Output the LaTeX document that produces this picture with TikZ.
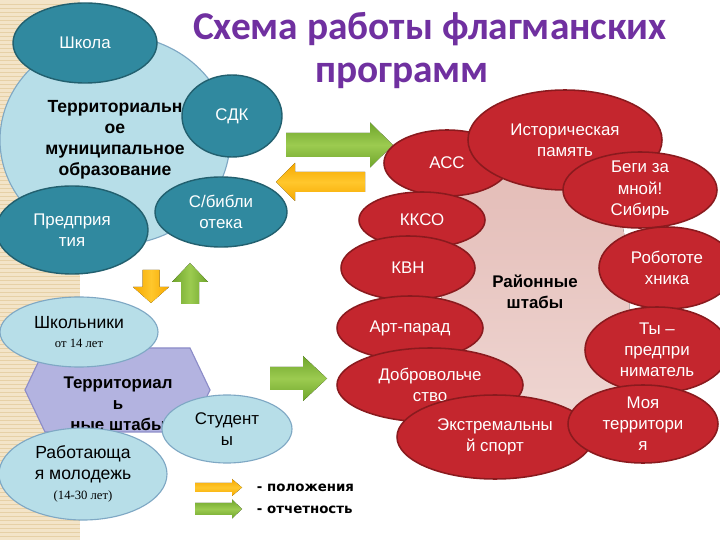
\documentclass[tikz,border=0pt]{standalone}
\usepackage{fontspec}
\setmainfont{Liberation Sans}
\newfontfamily\titlefont{Carlito}
\newfontfamily\timesru{Liberation Serif}
\newfontfamily\legendfont{DejaVu Sans}
\usetikzlibrary{shapes.geometric}

\definecolor{beige}{HTML}{F3E4C8}
\definecolor{beigeline}{HTML}{E6D0A6}
\definecolor{tealfill}{HTML}{30899F}
\definecolor{tealdraw}{HTML}{22606F}
\definecolor{lblue}{HTML}{B7DEE8}
\definecolor{lbluedraw}{HTML}{7FA8C4}
\definecolor{lavender}{HTML}{B3B3E0}
\definecolor{lavdraw}{HTML}{8C8CC8}
\definecolor{redfill}{HTML}{C4262E}
\definecolor{reddraw}{HTML}{8A1A1E}
\definecolor{pinktop}{HTML}{E4BDB8}
\definecolor{pinkbot}{HTML}{EFD6D2}
\definecolor{purple1}{HTML}{7030A0}
\definecolor{greenlight}{HTML}{9CCB50}
\definecolor{greendark}{HTML}{6FA52C}
\definecolor{orangelight}{HTML}{FFC72C}
\definecolor{orangedark}{HTML}{F6A800}

\begin{document}
\begin{tikzpicture}[
  oval/.style={ellipse, inner sep=-6pt, align=center, font=\fontsize{12}{15}\selectfont},
  tealov/.style={oval, fill=tealfill, draw=tealdraw, line width=1pt, text=white},
  lblueov/.style={oval, fill=lblue, draw=lbluedraw, line width=0.8pt, text=black},
  redov/.style={oval, fill=redfill, draw=reddraw, line width=1.1pt, text=white},
  garrow/.style={draw=none, top color=greendark, bottom color=greendark, middle color=greenlight},
  oarrow/.style={draw=none, top color=orangedark, bottom color=orangedark, middle color=orangelight},
  titletext/.style={text=purple1, font=\titlefont\bfseries\fontsize{28}{32}\selectfont}
]
\useasboundingbox (0,0) rectangle (18,13.5);
\fill[white] (0,0) rectangle (18,13.5);

% beige strip on the left
\fill[beige] (0,0) rectangle (2,13.5);
\foreach \yy in {0,0.1,...,13.5}
  \draw[beigeline, line width=0.4pt] (0,\yy) -- (2,\yy);

% title
\node[titletext] (title1) at (10.75,12.78) {Схема работы флагманских};
\node[titletext] (title2) at (10.05,11.6) {программ};

% municipal group
\node[lblueov, minimum width=5.75cm, minimum height=5.25cm, font=\bfseries\fontsize{12.5}{15}\selectfont] (munic) at (2.875,10.0) {Территориальн\\ое\\муниципальное\\образование};
\node[tealov, minimum width=3.6cm, minimum height=2cm] (school) at (2.125,12.425) {Школа};
\node[tealov, minimum width=2.5cm, minimum height=2.05cm] (sdk) at (5.8,10.6) {СДК};
\node[tealov, minimum width=3.3cm, minimum height=1.75cm] (lib) at (5.525,8.2) {С/библи\\отека};
\node[tealov, minimum width=3.8cm, minimum height=2.2cm] (firms) at (1.8,7.75) {Предприя\\тия};

% arrows between the groups
\fill[garrow] (7.15,9.575) -- (9.25,9.575) -- (9.25,9.3125) -- (9.825,9.875) -- (9.25,10.4375) -- (9.25,10.175) -- (7.15,10.175) -- cycle;
\fill[oarrow] (9.125,8.7) -- (7.375,8.7) -- (7.375,8.475) -- (6.9,8.95) -- (7.375,9.425) -- (7.375,9.2) -- (9.125,9.2) -- cycle;
\fill[oarrow, shading angle=90] (3.5625,6.75) -- (3.5625,6.325) -- (3.325,6.325) -- (3.775,5.925) -- (4.225,6.325) -- (3.9875,6.325) -- (3.9875,6.75) -- cycle;
\fill[garrow, shading angle=90] (4.525,5.9) -- (4.525,6.45) -- (4.3,6.45) -- (4.75,6.925) -- (5.2,6.45) -- (4.975,6.45) -- (4.975,5.9) -- cycle;
\fill[garrow] (6.75,3.75) -- (7.575,3.75) -- (7.575,3.475) -- (8.175,4.0375) -- (7.575,4.6) -- (7.575,4.325) -- (6.75,4.325) -- cycle;

% territorial groups
\filldraw[fill=lavender, draw=lavdraw, line width=0.8pt] (0.625,3.75) -- (1.125,4.8) -- (4.75,4.8) -- (5.25,3.75) -- (4.75,2.7) -- (1.125,2.7) -- cycle;
\node[align=center, font=\bfseries\fontsize{12}{15}\selectfont] (hq) at (2.95,3.4) {Территориал\\ь\\ные штабы};
\node[lblueov, minimum width=3.95cm, minimum height=1.75cm, font=\fontsize{12.5}{14}\selectfont] (pupils) at (1.975,5.2) {Школьники\\{\timesru\fontsize{9}{10}\selectfont от 14 лет}};
\node[lblueov, minimum width=3.25cm, minimum height=1.7cm] (students) at (5.675,2.775) {Студент\\ы};
\node[lblueov, minimum width=4.2cm, minimum height=2.3cm, font=\fontsize{12.5}{14.5}\selectfont] (youth) at (2.075,1.65) {Работающа\\я молодежь\\{\timesru\fontsize{9}{10}\selectfont (14-30 лет)}};

% district headquarters
\fill[top color=pinktop, bottom color=pinkbot] plot[smooth cycle] coordinates {(11.125,8.875) (13.0,9.05) (15.0,8.75) (15.625,7.5) (15.625,3.75) (14.0,3.0) (11.75,3.375) (11.125,5.25) (11.0,7.25)};
\node[redov, minimum width=3.15cm, minimum height=1.65cm] (acc) at (11.175,9.425) {АСС};
\node[redov, minimum width=4.85cm, minimum height=2.5cm] (hist) at (14.125,10.0) {Историческая\\память};
\node[redov, minimum width=3.85cm, minimum height=1.9cm] (run) at (16.0,8.75) {Беги за\\мной!\\Сибирь};
\node[redov, minimum width=3.4cm, minimum height=2.05cm] (robot) at (16.675,6.8) {Робототе\\хника};
\node[redov, minimum width=3.6cm, minimum height=2.15cm] (biz) at (16.425,4.75) {Ты –\\предпри\\ниматель};
\node[redov, minimum width=3.15cm, minimum height=1.4cm] (ksco) at (10.55,8.0) {ККСО};
\node[redov, minimum width=3.35cm, minimum height=1.6cm] (kvn) at (10.2,6.8) {КВН};
\node[redov, minimum width=3.65cm, minimum height=1.6cm] (artp) at (10.25,5.3) {Арт-парад};
\node[redov, minimum width=4.65cm, minimum height=1.85cm] (volunt) at (10.75,3.875) {Добровольче\\ство};
\node[redov, minimum width=4.9cm, minimum height=2.1cm] (extreme) at (12.375,2.575) {Экстремальны\\й спорт};
\node[redov, minimum width=3.75cm, minimum height=1.95cm] (myland) at (16.075,2.9) {Моя\\территори\\я};
\node[align=center, font=\bfseries\fontsize{12}{15}\selectfont] (dhq) at (13.375,6.2) {Районные\\штабы};

% legend
\fill[oarrow] (4.875,1.2) -- (5.8,1.2) -- (5.8,1.1) -- (6.05,1.3125) -- (5.8,1.525) -- (5.8,1.425) -- (4.875,1.425) -- cycle;
\fill[garrow] (4.875,0.625) -- (5.8,0.625) -- (5.8,0.5375) -- (6.05,0.775) -- (5.8,1.0125) -- (5.8,0.925) -- (4.875,0.925) -- cycle;
\node[anchor=west, font=\legendfont\bfseries\fontsize{9.5}{11}\selectfont] (leg1) at (6.3,1.3) {- положения};
\node[anchor=west, font=\legendfont\bfseries\fontsize{9.5}{11}\selectfont] (leg2) at (6.3,0.75) {- отчетность};

\end{tikzpicture}
\end{document}
